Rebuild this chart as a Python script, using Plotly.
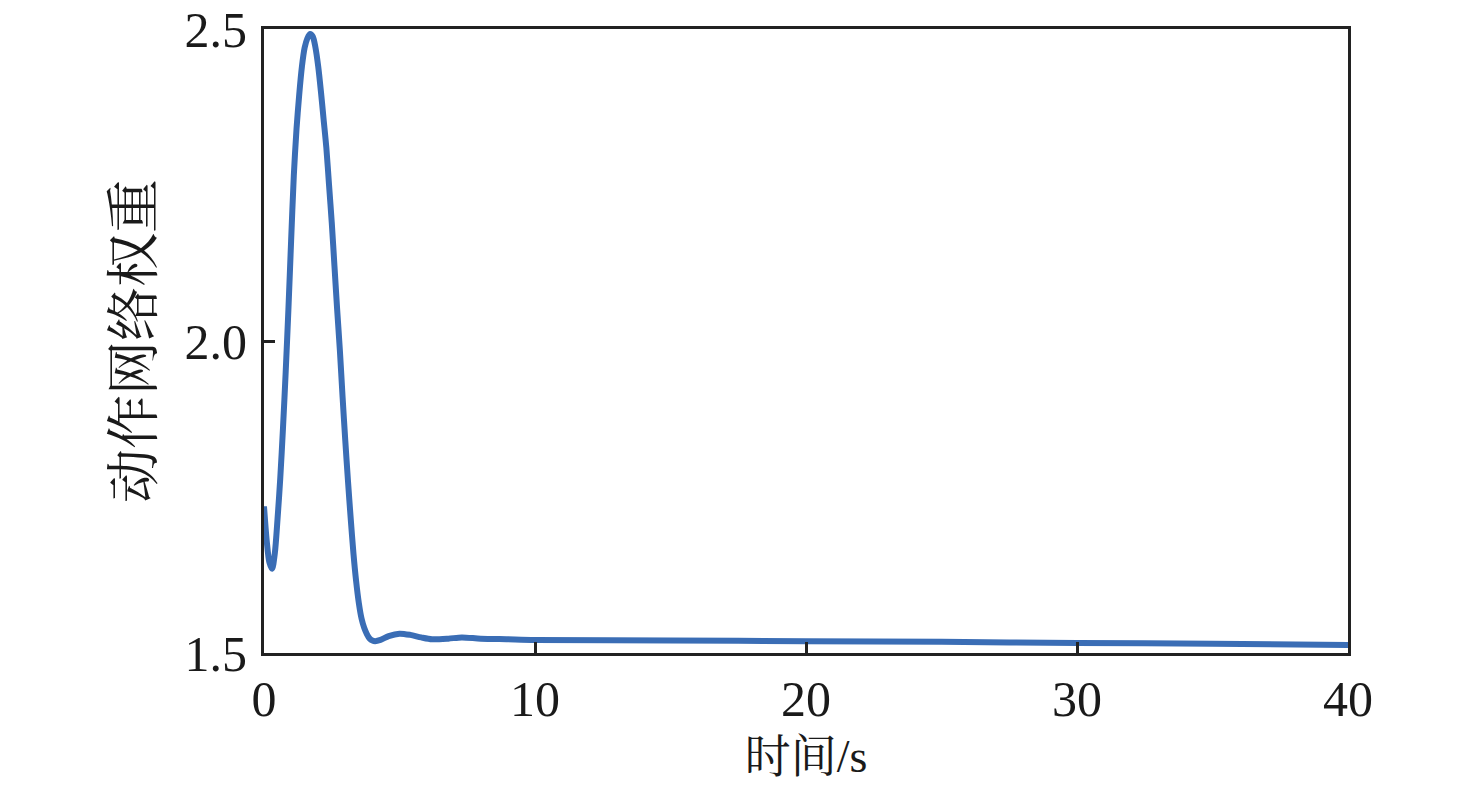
import plotly.graph_objects as go

# time (s) and action-network weight
time_s = [0.0, 0.1, 0.2, 0.3, 0.4, 0.5, 0.6, 0.7, 0.8, 0.9,
          1.0, 1.1, 1.2, 1.3, 1.4, 1.5, 1.6, 1.7, 1.8, 1.9,
          2.0, 2.1, 2.2, 2.3, 2.4, 2.5, 2.6, 2.7, 2.8, 2.9,
          3.0, 3.1, 3.2, 3.3, 3.4, 3.5, 3.6, 3.7, 3.8, 3.9,
          4.0, 4.1, 4.3, 4.6, 5.0, 5.4, 5.8, 6.2, 6.8, 7.3,
          8.0, 9.0, 10, 15, 20, 25, 30, 35, 40]
weight = [1.735, 1.68, 1.645, 1.635, 1.66, 1.715, 1.78, 1.86, 1.95, 2.05,
          2.16, 2.265, 2.34, 2.395, 2.44, 2.47, 2.485, 2.492, 2.488, 2.47,
          2.44, 2.40, 2.355, 2.31, 2.25, 2.19, 2.12, 2.05, 1.985, 1.91,
          1.84, 1.775, 1.715, 1.66, 1.615, 1.58, 1.555, 1.54, 1.53, 1.523,
          1.52, 1.519, 1.521, 1.527, 1.531, 1.529, 1.525, 1.522, 1.523, 1.525,
          1.523, 1.522, 1.521, 1.52, 1.519, 1.518, 1.516, 1.515, 1.513]

x_ticks = [0, 10, 20, 30, 40]
y_ticks = [1.5, 2.0, 2.5]
y_tick_text = ["1.5", "2.0", "2.5"]

FONT = "Liberation Serif, Noto Serif CJK SC, Noto Sans CJK SC, serif"

fig = go.Figure()
fig.add_trace(go.Scatter(
    x=time_s, y=weight, mode="lines",
    line=dict(color="#3a6db5", width=6, shape="spline", smoothing=0.8),
    showlegend=False,
))

axis_common = dict(
    showline=True, linecolor="#222222", linewidth=3, mirror=True,
    ticks="inside", ticklen=11, tickwidth=2.5, tickcolor="#222222",
    showgrid=False, zeroline=False, automargin=False,
    ticklabeloverflow="allow",
    tickfont=dict(family=FONT, size=50, color="#1a1a1a"),
)

fig.update_xaxes(
    range=[0, 40], tickvals=x_ticks, ticklabelstandoff=0,
    title=dict(text="时间/s", font=dict(family=FONT, size=46, color="#1a1a1a"), standoff=14),
    **axis_common,
)
fig.update_yaxes(
    range=[1.5, 2.5], tickvals=y_ticks, ticktext=y_tick_text, ticklabelstandoff=4,
    title=dict(text="动作网络权重", font=dict(family=FONT, size=54, color="#1a1a1a"), standoff=14),
    **axis_common,
)

# page shows an 8px offset, so the figure is a little smaller than the window
fig.update_layout(
    width=1468, height=788,
    margin=dict(l=256, r=128, t=21, b=143),
    plot_bgcolor="white", paper_bgcolor="white",
)

fig.write_html("out.html")
